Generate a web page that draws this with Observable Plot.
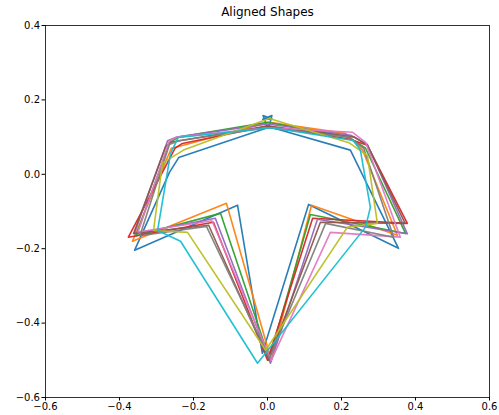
<!DOCTYPE html>
<html>
<head>
<meta charset="utf-8">
<script src="https://cdn.jsdelivr.net/npm/d3@7"></script>
<script src="https://cdn.jsdelivr.net/npm/@observablehq/plot@0.6"></script>
<style>
  body { margin: 0; background: #fff; }
  svg { font-family: "DejaVu Sans", sans-serif; }
</style>
</head>
<body>
<div id="chart"></div>
<script>
// Ten aligned shapes, each a closed polygon of [x, y] landmarks
const shapeColors = ["#1f77b4", "#ff7f0e", "#2ca02c", "#d62728", "#9467bd",
                     "#8c564b", "#e377c2", "#7f7f7f", "#bcbd22", "#17becf"];

const shape0 = [[0.0,0.125],[-0.012,0.158],[0.013,0.148],[-0.013,0.148],[0.012,0.158],[0.004,0.128],[0.224,0.065],[0.354,-0.199],[0.111,-0.081],[-0.014,-0.481],[-0.081,-0.083],[-0.359,-0.204],[-0.265,0.005],[-0.24,0.045],[0.0,0.125]];
const shape1 = [[0.005,0.14],[0.211,0.110],[0.257,0.065],[0.351,-0.164],[0.119,-0.083],[0.01,-0.50],[-0.111,-0.078],[-0.365,-0.180],[-0.26,0.07],[-0.22,0.08],[0.005,0.14]];
const shape2 = [[0.0,0.14],[0.22,0.10],[0.265,0.07],[0.373,-0.159],[0.116,-0.108],[0.005,-0.495],[-0.127,-0.105],[-0.355,-0.165],[-0.265,0.085],[-0.24,0.10],[0.0,0.14]];
const shape3 = [[0.0,0.13],[0.22,0.095],[0.27,0.078],[0.378,-0.132],[0.122,-0.118],[0.0,-0.50],[-0.146,-0.129],[-0.376,-0.169],[-0.25,0.07],[-0.23,0.083],[0.0,0.13]];
const shape4 = [[0.0,0.135],[0.225,0.105],[0.27,0.08],[0.378,-0.16],[0.135,-0.121],[0.008,-0.508],[-0.141,-0.118],[-0.36,-0.16],[-0.27,0.09],[-0.245,0.10],[0.0,0.135]];
const shape5 = [[0.0,0.13],[0.235,0.10],[0.27,0.078],[0.372,-0.132],[0.143,-0.129],[0.003,-0.50],[-0.159,-0.137],[-0.362,-0.159],[-0.275,0.075],[-0.262,0.086],[0.0,0.13]];
const shape6 = [[0.0,0.125],[0.23,0.113],[0.265,0.086],[0.359,-0.169],[0.170,-0.156],[0.01,-0.50],[-0.15,-0.125],[-0.35,-0.155],[-0.265,0.09],[-0.245,0.10],[0.0,0.125]];
const shape7 = [[0.0,0.125],[0.22,0.10],[0.26,0.07],[0.341,-0.169],[0.157,-0.132],[0.005,-0.495],[-0.165,-0.14],[-0.345,-0.165],[-0.265,0.08],[-0.24,0.09],[0.0,0.125]];
const shape8 = [[0.005,0.15],[0.22,0.085],[0.27,0.05],[0.297,-0.132],[0.216,-0.142],[-0.005,-0.473],[-0.216,-0.156],[-0.308,-0.151],[-0.284,0.030],[-0.227,0.065],[0.005,0.15]];
const shape9 = [[0.01,0.125],[0.232,0.091],[0.251,0.065],[0.278,-0.089],[0.265,-0.142],[-0.027,-0.508],[-0.235,-0.180],[-0.297,-0.151],[-0.262,0.056],[-0.241,0.099],[0.01,0.125]];

const shapes = [shape0, shape1, shape2, shape3, shape4, shape5, shape6, shape7, shape8, shape9];

const xTicks = [-0.6, -0.4, -0.2, 0.0, 0.2, 0.4, 0.6];
const yTicks = [-0.6, -0.4, -0.2, 0.0, 0.2, 0.4];
const title = "Aligned Shapes";

const fmt = d3.format(".1f");

const marks = shapes.map((s, i) =>
  Plot.line(s, {x: d => d[0], y: d => d[1], stroke: shapeColors[i], strokeWidth: 1.6, strokeOpacity: 0.95, curve: "linear"})
);

const chart = Plot.plot({
  width: 499,
  height: 415,
  marginLeft: 45,
  marginRight: 10,
  marginTop: 25,
  marginBottom: 18,
  style: {fontSize: "10px", fontFamily: "DejaVu Sans, sans-serif", color: "#000", background: "#fff"},
  x: {domain: [-0.6, 0.6], ticks: xTicks, tickFormat: fmt, tickSize: 3.5, label: null},
  y: {domain: [-0.6, 0.4], ticks: yTicks, tickFormat: fmt, tickSize: 3.5, label: null},
  marks: [
    ...marks,
    Plot.frame({stroke: "#000", strokeWidth: 0.8}),
    Plot.axisX({ticks: xTicks, tickFormat: fmt, tickSize: 3.5, tickPadding: 2, label: null}),
    Plot.axisY({ticks: yTicks, tickFormat: fmt, tickSize: 3.5, tickPadding: 2, label: null}),
    Plot.text([title], {frameAnchor: "top", dy: -18, text: d => d, fontSize: 12, fill: "#000"})
  ]
});

document.getElementById("chart").appendChild(chart);
</script>
</body>
</html>
